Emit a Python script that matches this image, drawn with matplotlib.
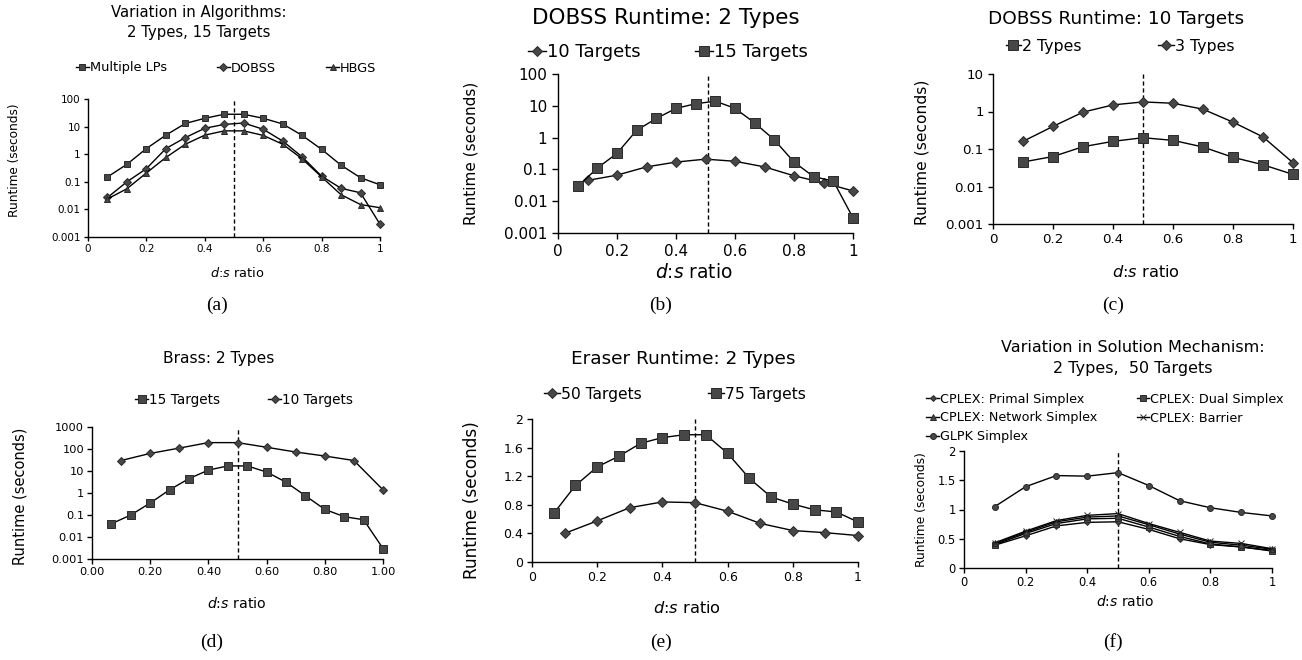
import matplotlib
matplotlib.use("Agg")
import matplotlib.pyplot as plt
from matplotlib.lines import Line2D
from matplotlib.ticker import NullLocator

plt.rcParams['font.family'] = ['DejaVu Sans']
plt.rcParams['mathtext.fontset'] = 'dejavusans'

# ---------------- data ----------------
x15 = [k / 15 for k in range(1, 16)]
x10 = [k / 10 for k in range(1, 11)]

# (a) variation in algorithms, 2 types, 15 targets
a_multi = [0.15, 0.43, 1.6, 4.9, 13, 20, 28, 28, 20, 12.5, 4.8, 1.5, 0.4, 0.14, 0.078]
a_dobss = [0.027, 0.1, 0.3, 1.6, 4, 8.7, 12, 13.5, 8, 3, 0.8, 0.16, 0.058, 0.04, 0.0029]
a_hbgs = [0.024, 0.056, 0.21, 0.76, 2.3, 4.9, 7, 7, 4.8, 2.3, 0.68, 0.15, 0.034, 0.015, 0.0115]

# (b) DOBSS runtime, 2 types
b_10 = [0.045, 0.066, 0.12, 0.17, 0.21, 0.18, 0.12, 0.063, 0.038, 0.021]
b_15 = [0.029, 0.11, 0.32, 1.7, 4, 8.3, 11.6, 14, 8.3, 2.9, 0.85, 0.17, 0.059, 0.043, 0.003]

# (c) DOBSS runtime, 10 targets
c_2types = [0.045, 0.063, 0.115, 0.16, 0.2, 0.17, 0.113, 0.06, 0.038, 0.021]
c_3types = [0.16, 0.4, 0.96, 1.5, 1.8, 1.66, 1.15, 0.52, 0.21, 0.043]

# (d) Brass, 2 types
d_15 = [0.04, 0.1, 0.35, 1.4, 4.5, 11, 17, 17, 9, 3.1, 0.75, 0.18, 0.084, 0.061, 0.003]
d_10 = [30, 63, 110, 195, 195, 120, 73, 48, 30, 1.4]

# (e) Eraser runtime, 2 types
e_50 = [0.40, 0.575, 0.76, 0.84, 0.83, 0.71, 0.54, 0.44, 0.41, 0.37]
e_75 = [0.68, 1.07, 1.33, 1.48, 1.66, 1.74, 1.78, 1.78, 1.52, 1.17, 0.91, 0.81, 0.73, 0.70, 0.56]

# (f) variation in solution mechanism, 2 types, 50 targets
f_primal = [0.39, 0.55, 0.72, 0.78, 0.79, 0.66, 0.50, 0.40, 0.36, 0.30]
f_dual = [0.40, 0.59, 0.76, 0.84, 0.85, 0.70, 0.54, 0.41, 0.36, 0.29]
f_network = [0.42, 0.61, 0.79, 0.87, 0.89, 0.74, 0.58, 0.44, 0.39, 0.32]
f_barrier = [0.43, 0.63, 0.81, 0.90, 0.93, 0.76, 0.61, 0.46, 0.42, 0.33]
f_glpk = [1.05, 1.39, 1.58, 1.57, 1.63, 1.41, 1.15, 1.03, 0.95, 0.89]

x_ticks = [0, 0.2, 0.4, 0.6, 0.8, 1.0]
x_labels = ['0', '0.2', '0.4', '0.6', '0.8', '1']
x_labels_d = ['0.00', '0.20', '0.40', '0.60', '0.80', '1.00']
log_ticks = [0.001, 0.01, 0.1, 1, 10, 100, 1000]
log_labels = ['0.001', '0.01', '0.1', '1', '10', '100', '1000']

MFC = '#474747'
MEC = '#2a2a2a'
W, H = 1302, 660

fig = plt.figure(figsize=(13.02, 6.6), dpi=100)


def box(l, t, r, b):
    # pixel box -> figure axes
    return fig.add_axes([l / W, 1 - b / H, (r - l) / W, (b - t) / H])


def series(ax, x, y, marker, ms):
    ax.plot(x, y, color='black', lw=1.0, marker=marker, ms=ms,
            mfc=MFC, mec=MEC, mew=0.7, clip_on=False, zorder=3)


def style(ax, fs, ylog=None, yticks=None, ylabels=None, xl=x_labels, vline=0.5):
    for s in ['top', 'right']:
        ax.spines[s].set_visible(False)
    for s in ['left', 'bottom']:
        ax.spines[s].set_linewidth(1.0)
    ax.set_xlim(0, 1)
    ax.set_xticks(x_ticks)
    ax.set_xticklabels(xl)
    if ylog:
        ax.set_yscale('log')
        ax.set_ylim(ylog)
        t = [v for v in log_ticks if ylog[0] <= v <= ylog[1]]
        ax.set_yticks(t)
        ax.set_yticklabels([log_labels[log_ticks.index(v)] for v in t])
        ax.yaxis.set_minor_locator(NullLocator())
    else:
        ax.set_ylim(yticks[0], yticks[-1])
        ax.set_yticks(yticks)
        ax.set_yticklabels(ylabels)
    ax.tick_params(direction='out', length=0.4 * fs, width=1, labelsize=fs, pad=0.3 * fs)
    ax.axvline(vline, color='black', lw=1, ls=(0, (3, 2)), zorder=2)


def ylab(ax, px, py, fs):
    ax.set_ylabel('Runtime (seconds)', fontsize=fs, va='center')
    ax.yaxis.set_label_coords(px / W, 1 - py / H, transform=fig.transFigure)


def legend(ax, handles, labels, cx, cy, fs, ncol, colsp, lsp=0.25):
    ax.legend(handles, labels, loc='center', bbox_to_anchor=(cx / W, 1 - cy / H),
              bbox_transform=fig.transFigure, ncol=ncol, frameon=False, fontsize=fs,
              handlelength=1.0, handletextpad=0.05, columnspacing=colsp,
              labelspacing=lsp, borderpad=0, borderaxespad=0)


def h(marker, ms):
    return Line2D([], [], color='black', lw=1, marker=marker, ms=ms,
                  mfc=MFC, mec=MEC, mew=0.7)


def titles(lines, cx, ys, fs):
    for txt, y in zip(lines, ys):
        fig.text(cx / W, 1 - y / H, txt, ha='center', va='center', fontsize=fs)


def xlab(cx, y, fs):
    fig.text(cx / W, 1 - y / H, r'$d$:$s$ ratio', ha='center', va='center', fontsize=fs)


def caption(txt, cx, y):
    fig.text(cx / W, 1 - y / H, txt, ha='center', va='center', fontsize=14,
             family='Liberation Serif')


# (a)
ax = box(88, 99, 380, 237)
series(ax, x15, a_multi, 's', 5)
series(ax, x15, a_dobss, 'D', 3.8)
series(ax, x15, a_hbgs, '^', 4.8)
style(ax, 7.5, ylog=(0.001, 100))
ylab(ax, 15, 160, 8.7)
titles(['Variation in Algorithms:', '2 Types, 15 Targets'], 199, [12, 32], 10.7)
legend(ax, [h('s', 5), h('D', 3.8), h('^', 4.8)], ['Multiple LPs', 'DOBSS', 'HBGS'],
       226, 68, 9.3, 3, 3.9)
xlab(237, 273, 9.3)
caption('(a)', 217, 305)

# (b)
ax = box(558, 74, 853, 233)
series(ax, x10, b_10, 'D', 5)
series(ax, x15, b_15, 's', 7.5)
style(ax, 11, ylog=(0.001, 100), vline=0.507)
ylab(ax, 471, 153, 11)
titles(['DOBSS Runtime: 2 Types'], 666, [18], 15.5)
legend(ax, [h('D', 5), h('s', 7.5)], ['10 Targets', '15 Targets'], 668, 52, 13, 2, 3.0)
xlab(694, 272, 13.4)
caption('(b)', 661, 305)

# (c)
ax = box(993, 74, 1293, 224)
series(ax, x10, c_2types, 's', 6.5)
series(ax, x10, c_3types, 'D', 4.8)
style(ax, 9.6, ylog=(0.001, 10))
ylab(ax, 922, 152, 11.2)
titles(['DOBSS Runtime: 10 Targets'], 1116, [19], 13.3)
legend(ax, [h('s', 6.5), h('D', 4.8)], ['2 Types', '3 Types'], 1120, 46, 11.3, 2, 4.9)
xlab(1146, 272, 11.7)
caption('(c)', 1113, 305)

# (d)
ax = box(92, 427, 383, 559)
series(ax, x15, d_15, 's', 5.8)
series(ax, x10, d_10, 'D', 4.5)
style(ax, 8.2, ylog=(0.001, 1000), xl=x_labels_d)
ylab(ax, 20, 496, 10.5)
titles(['Brass: 2 Types'], 219, [359], 11.2)
legend(ax, [h('s', 5.8), h('D', 4.5)], ['15 Targets', '10 Targets'], 244, 400, 9.8, 2, 3.5)
xlab(237, 604, 10.2)
caption('(d)', 212, 642)

# (e)
ax = box(532, 419, 858, 562)
series(ax, x10, e_50, 'D', 4.8)
series(ax, x15, e_75, 's', 6.5)
style(ax, 9, yticks=[0, 0.4, 0.8, 1.2, 1.6, 2.0],
      ylabels=['0', '0.4', '0.8', '1.2', '1.6', '2'])
ylab(ax, 472, 500, 12.2)
titles(['Eraser Runtime: 2 Types'], 683, [359], 13.3)
legend(ax, [h('D', 4.8), h('s', 6.5)], ['50 Targets', '75 Targets'], 675, 394, 11.2, 2, 4.3)
xlab(687, 608, 11.7)
caption('(e)', 661, 642)

# (f)
ax = box(964, 451, 1272, 568)
series(ax, x10, f_primal, 'D', 3)
series(ax, x10, f_dual, 's', 3.8)
series(ax, x10, f_network, '^', 4)
series(ax, x10, f_barrier, 'x', 4)
series(ax, x10, f_glpk, 'o', 4.3)
style(ax, 8.3, yticks=[0, 0.5, 1.0, 1.5, 2.0], ylabels=['0', '0.5', '1', '1.5', '2'])
ylab(ax, 922, 510, 8.8)
titles(['Variation in Solution Mechanism:', '2 Types,  50 Targets'], 1133, [347, 368], 11.5)
legend(ax, [h('D', 3), h('^', 4), h('o', 4.3), h('s', 3.8), h('x', 4)],
       ['CPLEX: Primal Simplex', 'CPLEX: Network Simplex', 'GLPK Simplex',
        'CPLEX: Dual Simplex', 'CPLEX: Barrier'], 1105, 418, 9.2, 2, 3.1, lsp=0.45)
xlab(1125, 602, 10)
caption('(f)', 1113, 642)

fig.savefig('out.png', dpi=100)
